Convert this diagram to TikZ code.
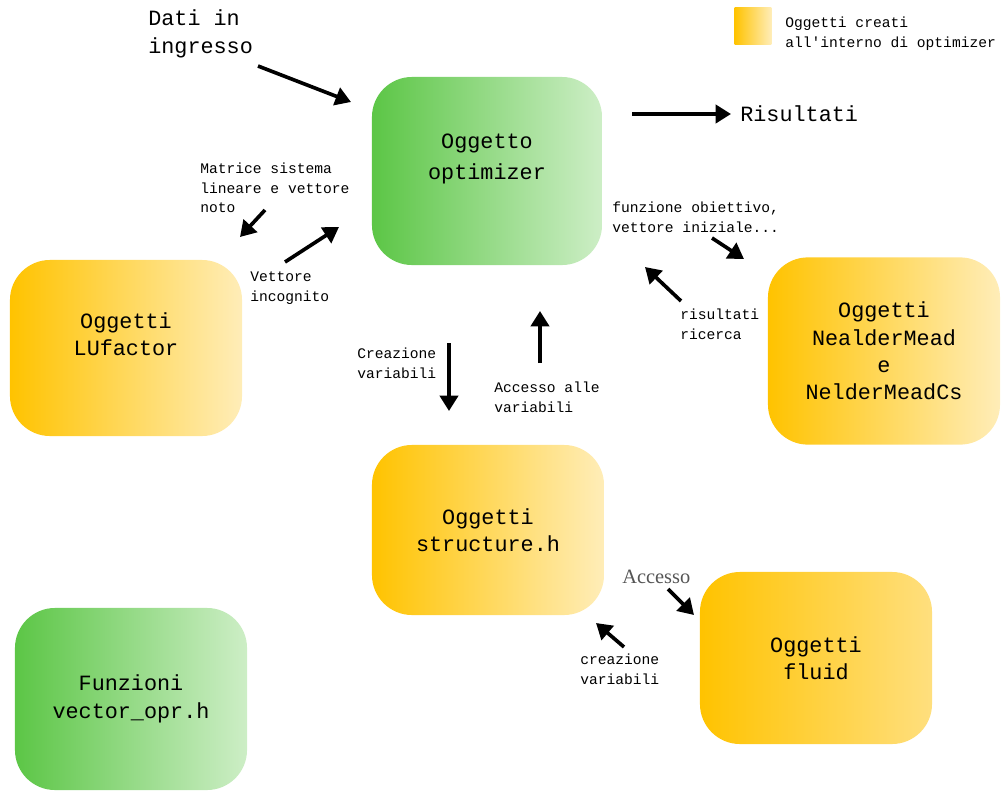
\documentclass[tikz,border=0pt]{standalone}
\usepackage{fontspec}
\setmainfont[Ligatures=NoCommon]{Liberation Mono}
\newfontfamily\grayserif{Liberation Serif}
\usetikzlibrary{arrows.meta}
\definecolor{OptGreen}  {HTML}{5CC646}
\definecolor{OptGreenL} {HTML}{CDEEC6}
\definecolor{ObjGold}   {HTML}{FFC300}
\definecolor{ObjGoldL}  {HTML}{FFEDB8}
\definecolor{ObjGoldM}  {HTML}{FFDF7E}
\definecolor{NoteGray}  {HTML}{555555}

\begin{document}
\begin{tikzpicture}[x=0.025cm,y=-0.025cm,
  obj/.style={rounded corners=1cm,minimum width=5.8cm,align=center,
    inner sep=0pt,left color=ObjGold,right color=ObjGoldL,
    font=\fontsize{15.5}{19.5}\selectfont},
  fun/.style={obj,left color=OptGreen,right color=OptGreenL},
  arr/.style={-{Triangle[length=11pt,width=13pt]},line width=2.6pt,black},
  lbl/.style={font=\fontsize{10.4}{14}\selectfont,align=left,anchor=west,inner sep=0pt},
  big/.style={font=\fontsize{15.5}{20}\selectfont,align=left,anchor=west,inner sep=0pt}]
  \useasboundingbox (0,0) rectangle (1002,796);
  % Blocchi
  \node[fun,minimum width=5.75cm,minimum height=4.7cm,text depth=20pt,
    font=\fontsize{15.5}{22}\selectfont](OPT) at (487,171) {Oggetto\\optimizer};
  \node[obj,minimum height=4.4cm,text depth=20pt](LU) at (126,348) {Oggetti\\LUfactor};
  \node[obj,minimum height=4.68cm](NM) at (884,351) {Oggetti\\NealderMead\\e\\NelderMeadCs};
  \node[obj,minimum height=4.25cm](STR) at (488,530) {Oggetti\\structure.h};
  \node[obj,minimum height=4.3cm,right color=ObjGoldM](FLU) at (816,658) {Oggetti\\fluid};
  \node[fun,minimum height=4.55cm](VEC) at (131,699) {Funzioni\\vector\_opr.h};
  % Legenda
  \node[obj,rounded corners=0pt,minimum width=0.92cm,minimum height=0.9cm](LEG) at (753,26) {};
  \node[lbl](LEGT) at (785,34) {Oggetti creati\\all\textquotesingle interno di optimizer};
  % Etichette
  \node[big](IN) at (148,34) {Dati in\\ingresso};
  \node[big](OUT) at (740,114) {Risultati};
  \node[lbl](MAT) at (200,188) {Matrice sistema\\lineare e vettore\\noto};
  \node[lbl](VINC) at (250,288) {Vettore\\incognito};
  \node[lbl](FOB) at (612,217) {funzione obiettivo,\\vettore iniziale...};
  \node[lbl](RIC) at (680,324) {risultati\\ricerca};
  \node[lbl](CRV) at (357,363) {Creazione\\variabili};
  \node[lbl](ACV) at (494,397) {Accesso alle\\variabili};
  \node[lbl,font=\grayserif\fontsize{14.5}{16}\selectfont,text=NoteGray](ACC) at (622,577) {Accesso};
  \node[lbl](CRF) at (580,669) {creazione\\variabili};
  % Estremi delle frecce
  \coordinate (a1) at (258,66);  \coordinate (a2) at (351,102);
  \coordinate (b1) at (632,114); \coordinate (b2) at (731,114);
  \coordinate (c1) at (265,210); \coordinate (c2) at (240,237);
  \coordinate (d1) at (285,262); \coordinate (d2) at (339,227);
  \coordinate (e1) at (712,238); \coordinate (e2) at (744,259);
  \coordinate (f1) at (681,301); \coordinate (f2) at (645,267);
  \coordinate (g1) at (449,343); \coordinate (g2) at (449,411);
  \coordinate (h1) at (540,363); \coordinate (h2) at (540,311);
  \coordinate (i1) at (668,589); \coordinate (i2) at (694,615);
  \coordinate (j1) at (624,647); \coordinate (j2) at (596,623);
  \foreach \s/\t in {a1/a2,b1/b2,c1/c2,d1/d2,e1/e2,f1/f2,g1/g2,h1/h2,i1/i2,j1/j2}
    \draw[arr] (\s) -- (\t);
\end{tikzpicture}
\end{document}
